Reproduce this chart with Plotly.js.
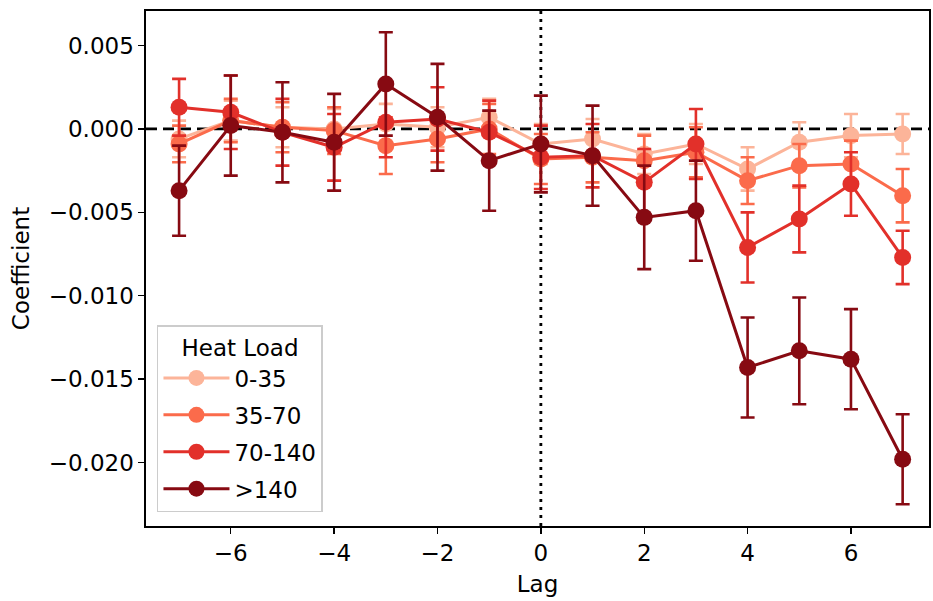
<!DOCTYPE html>
<html>
<head>
<meta charset="utf-8">
<script src="https://cdn.plot.ly/plotly-3.0.1.min.js"></script>
<style>html,body{margin:0;padding:0;background:#fff;}#chart{width:933px;height:601px;}</style>
</head>
<body>
<div id="chart"></div>
<script>
const lags = [-7,-6,-5,-4,-3,-2,-1,0,1,2,3,4,5,6,7];
const seriesNames = ["0-35","35-70","70-140",">140"];
const seriesColors = ["#fcb499","#fb6b4b","#e2302a","#870a12"];

const coef_0_35   = [-0.0006,0.0005,0.0001,0.0000,0.0003,0.0001,0.0007,-0.0009,-0.0006,-0.0015,-0.0009,-0.0024,-0.0008,-0.0004,-0.0003];
const err_0_35    = [0.0011,0.0012,0.0012,0.0012,0.0012,0.0012,0.0011,0.0012,0.0012,0.0012,0.0012,0.0013,0.0012,0.0013,0.0012];
const coef_35_70  = [-0.0009,0.0005,0.0001,-0.0001,-0.0010,-0.0006,0.0000,-0.0018,-0.0017,-0.0019,-0.0014,-0.0031,-0.0022,-0.0021,-0.0040];
const err_35_70   = [0.0011,0.0013,0.0015,0.0014,0.0017,0.0014,0.0015,0.0015,0.0015,0.0015,0.0015,0.0014,0.0013,0.0014,0.0016];
const coef_70_140 = [0.0013,0.0010,-0.0002,-0.0011,0.0004,0.0006,-0.0002,-0.0017,-0.0016,-0.0032,-0.0009,-0.0071,-0.0054,-0.0033,-0.0077];
const err_70_140  = [0.0017,0.0022,0.0020,0.0020,0.0021,0.0019,0.0019,0.0019,0.0019,0.0020,0.0021,0.0021,0.0020,0.0019,0.0016];
const coef_140    = [-0.0037,0.0002,-0.0002,-0.0008,0.0027,0.0007,-0.0019,-0.0009,-0.0016,-0.0053,-0.0049,-0.0143,-0.0133,-0.0138,-0.0198];
const err_140     = [0.0027,0.0030,0.0030,0.0029,0.0031,0.0032,0.0030,0.0029,0.0030,0.0031,0.0030,0.0030,0.0032,0.0030,0.0027];

const xTickVals = [-6,-4,-2,0,2,4,6];
const yTickVals = [0.005,0.000,-0.005,-0.010,-0.015,-0.020];

const coefs = [coef_0_35, coef_35_70, coef_70_140, coef_140];
const errs = [err_0_35, err_35_70, err_70_140, err_140];

const FONT = "DejaVu Sans, sans-serif";
const FS = 23;

const traces = seriesNames.map((name, i) => ({
  type: "scatter",
  mode: "lines+markers",
  name: name,
  legendgroup: "g" + i,
  x: lags,
  y: coefs[i],
  line: {color: seriesColors[i], width: 3},
  marker: {color: seriesColors[i], size: 17},
  error_y: {type: "data", array: errs[i], visible: true, color: seriesColors[i], thickness: 2.6, width: 7}
}));

const layout = {
  width: 933, height: 601,
  margin: {l: 146, r: 4, t: 11, b: 75},
  paper_bgcolor: "#fff", plot_bgcolor: "#fff",
  font: {family: FONT, size: FS, color: "#000"},
  showlegend: true,
  xaxis: {
    range: [-7.64, 7.51],
    tickvals: xTickVals,
    ticktext: xTickVals.map(v => v < 0 ? "\u2212" + Math.abs(v) : String(v)),
    showgrid: false, zeroline: false,
    showline: true, linecolor: "#000", linewidth: 1.6, mirror: true,
    ticks: "outside", ticklen: 6, tickwidth: 1.4, tickcolor: "#000",
    tickfont: {family: FONT, size: FS},
    title: {text: "Lag", font: {family: FONT, size: FS}, standoff: 10}
  },
  yaxis: {
    range: [-0.0238, 0.00707],
    tickvals: yTickVals,
    ticktext: yTickVals.map(v => (v < 0 ? "\u2212" : "") + Math.abs(v).toFixed(3)),
    showgrid: false, zeroline: false,
    showline: true, linecolor: "#000", linewidth: 1.6, mirror: true,
    ticks: "outside", ticklen: 6, tickwidth: 1.4, tickcolor: "#000",
    tickfont: {family: FONT, size: FS},
    title: {text: "Coefficient", font: {family: FONT, size: FS}, standoff: 12}
  },
  shapes: [
    {type: "line", xref: "paper", x0: 0, x1: 1, yref: "y", y0: 0, y1: 0,
     line: {color: "#000", width: 2.8, dash: "11px,6px"}, layer: "below"},
    {type: "line", xref: "x", x0: 0, x1: 0, yref: "paper", y0: 0, y1: 1,
     line: {color: "#000", width: 2.8, dash: "3px,5px"}, layer: "below"}
  ],
  legend: {
    x: 0.014, y: 0.027, xanchor: "left", yanchor: "bottom",
    bgcolor: "rgba(255,255,255,0.8)", bordercolor: "#cccccc", borderwidth: 1.5,
    font: {family: FONT, size: FS, color: "#000"},
    title: {text: "Heat Load", font: {family: FONT, size: FS, color: "#000"}, side: "top center"},
    tracegroupgap: 4,
    itemwidth: 66
  }
};

Plotly.newPlot("chart", traces, layout, {staticPlot: true, displayModeBar: false});
</script>
</body>
</html>
